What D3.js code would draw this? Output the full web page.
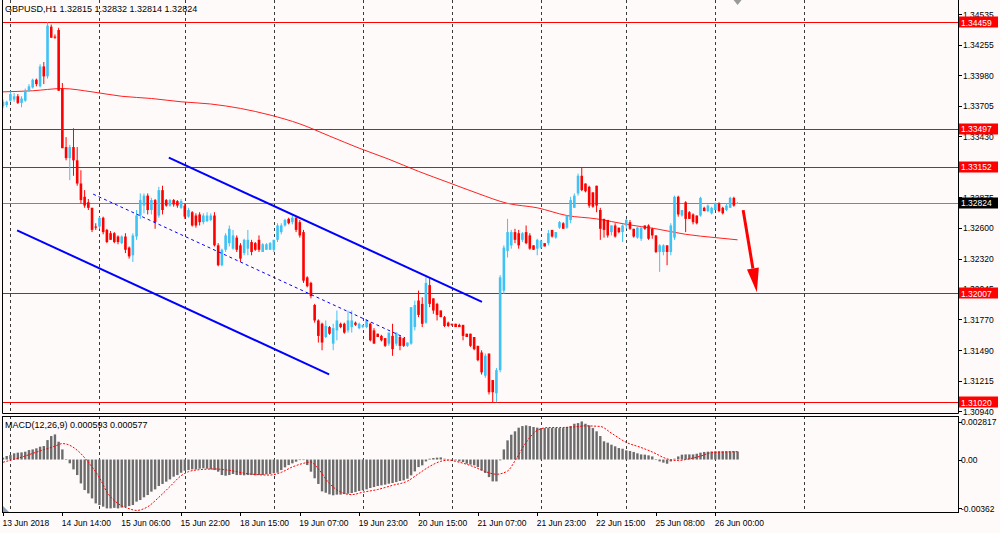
<!DOCTYPE html>
<html><head><meta charset="utf-8">
<script src="https://cdn.jsdelivr.net/npm/d3@7"></script>
<style>
body{margin:0;background:#fffafa;}
svg{display:block;}
text{font-family:"Liberation Sans",Arial,sans-serif;}
</style>
</head><body>
<svg id="c" width="1000" height="533"></svg>
<script>
// ---------------- data ----------------
const symbolTitle = "GBPUSD,H1  1.32815 1.32832 1.32814 1.32824";
const macdTitle = "MACD(12,26,9) 0.000593 0.000577";
const timeLabels = ["13 Jun 2018","14 Jun 14:00","15 Jun 06:00","15 Jun 22:00","18 Jun 15:00","19 Jun 07:00","19 Jun 23:00","20 Jun 15:00","21 Jun 07:00","21 Jun 23:00","22 Jun 15:00","25 Jun 08:00","26 Jun 00:00"];
const timeLabelBars = [0,16,32,48,64,80,96,112,128,144,160,176,192];
const gridBars = [2,26,49,73,97,121,145,168,192,216];
const priceTicks = [1.34535,1.34255,1.33980,1.33705,1.33430,1.32875,1.32600,1.32320,1.32045,1.31770,1.31490,1.31215,1.30940];
const levels = [1.34459,1.33497,1.33152,1.32007,1.31020];
const bidPrice = 1.32824;
const macdTicks = [0.002817,0,-0.00362];
const macdTickLabels = ["0.002817","0.00","-0.00362"];

// hourly candles [open, high, low, close]
const ohlc = [
[1.3370,1.3376,1.3368,1.3374],[1.3371,1.3375,1.3369,1.3374],[1.3375,1.3384,1.3374,1.3381],[1.3376,1.3382,1.3374,1.3379],
[1.3379,1.3381,1.3372,1.3373],[1.3373,1.3379,1.3369,1.3377],[1.3375,1.3386,1.3374,1.3384],[1.3384,1.3390,1.3383,1.3388],
[1.3387,1.3395,1.3386,1.3394],[1.3394,1.3395,1.3388,1.3390],[1.3388,1.3408,1.3387,1.3406],[1.3406,1.3410,1.3390,1.3397],
[1.3397,1.3446,1.3395,1.3443],[1.3442,1.3444,1.3432,1.3432],[1.3433,1.3435,1.3431,1.3432],[1.3439,1.3441,1.3384,1.3384],
[1.3386,1.3391,1.3332,1.3332],[1.3333,1.3342,1.3321,1.3323],[1.3323,1.3335,1.3303,1.3333],[1.3333,1.3350,1.3307,1.3321],
[1.3321,1.3333,1.3298,1.3300],[1.3300,1.3312,1.3282,1.3285],[1.3288,1.3294,1.3278,1.3280],[1.3283,1.3286,1.3276,1.3278],
[1.3278,1.3278,1.3256,1.3258],[1.3261,1.3264,1.3258,1.3260],[1.3261,1.3270,1.3259,1.3269],[1.3269,1.3270,1.3254,1.3256],
[1.3258,1.3259,1.3246,1.3247],[1.3255,1.3257,1.3249,1.3249],[1.3255,1.3256,1.3246,1.3247],[1.3252,1.3253,1.3245,1.3247],
[1.3246,1.3253,1.3245,1.3252],[1.3252,1.3255,1.3237,1.3240],[1.3242,1.3243,1.3232,1.3234],[1.3235,1.3255,1.3229,1.3253],
[1.3252,1.3276,1.3249,1.3271],[1.3271,1.3291,1.3268,1.3285],[1.3280,1.3291,1.3273,1.3289],[1.3289,1.3291,1.3272,1.3276],
[1.3276,1.3287,1.3272,1.3285],[1.3285,1.3286,1.3259,1.3265],[1.3271,1.3297,1.3269,1.3294],[1.3294,1.3298,1.3272,1.3276],
[1.3285,1.3286,1.3279,1.3280],[1.3280,1.3286,1.3279,1.3285],[1.3285,1.3286,1.3279,1.3281],[1.3284,1.3285,1.3278,1.3280],
[1.3278,1.3286,1.3277,1.3284],[1.3280,1.3282,1.3268,1.3270],[1.3270,1.3278,1.3269,1.3276],[1.3274,1.3275,1.3261,1.3262],
[1.3271,1.3273,1.3260,1.3262],[1.3272,1.3274,1.3262,1.3265],[1.3265,1.3273,1.3263,1.3271],[1.3266,1.3274,1.3265,1.3271],
[1.3267,1.3273,1.3266,1.3271],[1.3271,1.3274,1.3243,1.3244],[1.3244,1.3246,1.3225,1.3226],[1.3226,1.3241,1.3225,1.3240],
[1.3240,1.3255,1.3238,1.3253],[1.3246,1.3262,1.3243,1.3259],[1.3241,1.3258,1.3240,1.3253],[1.3251,1.3253,1.3238,1.3240],
[1.3244,1.3246,1.3229,1.3232],[1.3237,1.3250,1.3235,1.3249],[1.3241,1.3258,1.3235,1.3249],[1.3247,1.3249,1.3235,1.3238],
[1.3246,1.3247,1.3239,1.3240],[1.3249,1.3253,1.3238,1.3240],[1.3238,1.3246,1.3238,1.3245],[1.3240,1.3246,1.3240,1.3245],
[1.3240,1.3247,1.3240,1.3246],[1.3240,1.3249,1.3238,1.3249],[1.3249,1.3264,1.3247,1.3262],[1.3256,1.3264,1.3254,1.3262],
[1.3262,1.3268,1.3261,1.3267],[1.3268,1.3269,1.3263,1.3264],[1.3265,1.3271,1.3263,1.3269],[1.3269,1.3270,1.3256,1.3258],
[1.3265,1.3267,1.3251,1.3253],[1.3256,1.3258,1.3210,1.3212],[1.3215,1.3216,1.3206,1.3207],[1.3210,1.3211,1.3196,1.3198],
[1.3190,1.3191,1.3174,1.3176],[1.3176,1.3177,1.3156,1.3162],[1.3173,1.3174,1.3149,1.3156],[1.3161,1.3176,1.3160,1.3171],
[1.3170,1.3171,1.3163,1.3164],[1.3155,1.3173,1.3149,1.3169],[1.3167,1.3185,1.3158,1.3176],[1.3173,1.3174,1.3169,1.3170],
[1.3173,1.3174,1.3164,1.3165],[1.3167,1.3185,1.3165,1.3176],[1.3170,1.3185,1.3165,1.3176],[1.3174,1.3175,1.3171,1.3172],
[1.3169,1.3174,1.3168,1.3173],[1.3170,1.3172,1.3169,1.3172],[1.3170,1.3177,1.3169,1.3176],[1.3173,1.3174,1.3157,1.3158],
[1.3167,1.3169,1.3155,1.3155],[1.3164,1.3164,1.3161,1.3161],[1.3162,1.3163,1.3157,1.3158],[1.3160,1.3160,1.3152,1.3153],
[1.3155,1.3165,1.3153,1.3165],[1.3162,1.3173,1.3144,1.3150],[1.3155,1.3165,1.3153,1.3165],[1.3161,1.3162,1.3149,1.3153],
[1.3160,1.3160,1.3152,1.3153],[1.3153,1.3156,1.3152,1.3156],[1.3155,1.3188,1.3154,1.3188],[1.3170,1.3194,1.3167,1.3190],
[1.3194,1.3203,1.3179,1.3181],[1.3191,1.3197,1.3170,1.3173],[1.3174,1.3215,1.3173,1.3210],[1.3208,1.3214,1.3188,1.3191],
[1.3196,1.3196,1.3182,1.3185],[1.3191,1.3192,1.3176,1.3181],[1.3185,1.3185,1.3179,1.3179],[1.3179,1.3180,1.3170,1.3171],
[1.3174,1.3175,1.3170,1.3171],[1.3173,1.3173,1.3171,1.3172],[1.3173,1.3173,1.3170,1.3170],[1.3172,1.3173,1.3170,1.3170],
[1.3172,1.3172,1.3158,1.3162],[1.3164,1.3164,1.3161,1.3161],[1.3164,1.3164,1.3152,1.3153],[1.3161,1.3161,1.3149,1.3150],
[1.3153,1.3153,1.3139,1.3140],[1.3147,1.3149,1.3127,1.3129],[1.3126,1.3146,1.3124,1.3144],[1.3146,1.3146,1.3109,1.3111],
[1.3122,1.3122,1.3102,1.3111],[1.3110,1.3133,1.3102,1.3131],[1.3131,1.3217,1.3129,1.3215],[1.3203,1.3244,1.3200,1.3242],
[1.3239,1.3268,1.3233,1.3256],[1.3244,1.3258,1.3241,1.3256],[1.3256,1.3259,1.3246,1.3249],[1.3255,1.3258,1.3241,1.3244],
[1.3249,1.3256,1.3247,1.3255],[1.3256,1.3262,1.3245,1.3246],[1.3253,1.3255,1.3240,1.3241],[1.3244,1.3244,1.3240,1.3240],
[1.3241,1.3250,1.3235,1.3249],[1.3242,1.3249,1.3241,1.3248],[1.3246,1.3246,1.3243,1.3243],[1.3246,1.3258,1.3244,1.3255],
[1.3258,1.3258,1.3251,1.3252],[1.3251,1.3256,1.3250,1.3256],[1.3260,1.3266,1.3259,1.3265],[1.3264,1.3265,1.3259,1.3259],
[1.3260,1.3271,1.3259,1.3271],[1.3267,1.3288,1.3264,1.3285],[1.3278,1.3291,1.3278,1.3289],[1.3291,1.3309,1.3289,1.3307],
[1.3307,1.3315,1.3293,1.3294],[1.3300,1.3300,1.3292,1.3293],[1.3297,1.3298,1.3278,1.3280],[1.3292,1.3292,1.3278,1.3279],
[1.3298,1.3298,1.3274,1.3280],[1.3276,1.3278,1.3249,1.3259],[1.3268,1.3268,1.3251,1.3258],[1.3267,1.3267,1.3251,1.3253],
[1.3256,1.3262,1.3253,1.3262],[1.3262,1.3264,1.3251,1.3252],[1.3260,1.3260,1.3255,1.3256],[1.3256,1.3263,1.3247,1.3262],
[1.3262,1.3268,1.3259,1.3267],[1.3265,1.3267,1.3258,1.3259],[1.3259,1.3259,1.3251,1.3252],[1.3251,1.3261,1.3250,1.3260],
[1.3250,1.3261,1.3248,1.3260],[1.3262,1.3262,1.3258,1.3259],[1.3262,1.3263,1.3249,1.3250],[1.3259,1.3260,1.3250,1.3253],
[1.3253,1.3253,1.3237,1.3238],[1.3238,1.3245,1.3220,1.3244],[1.3238,1.3245,1.3235,1.3244],[1.3244,1.3244,1.3226,1.3238],
[1.3238,1.3264,1.3235,1.3262],[1.3251,1.3289,1.3249,1.3288],[1.3288,1.3289,1.3270,1.3272],[1.3271,1.3276,1.3270,1.3276],
[1.3283,1.3284,1.3256,1.3268],[1.3274,1.3275,1.3268,1.3268],[1.3272,1.3273,1.3263,1.3265],[1.3271,1.3271,1.3263,1.3264],
[1.3271,1.3288,1.3270,1.3287],[1.3278,1.3279,1.3275,1.3275],[1.3275,1.3281,1.3274,1.3280],[1.3273,1.3279,1.3272,1.3278],
[1.3276,1.3283,1.3276,1.3282],[1.3282,1.3283,1.3274,1.3275],[1.3278,1.3279,1.3272,1.3273],[1.3276,1.3282,1.3275,1.3280],
[1.3278,1.3288,1.3278,1.3287],[1.3287,1.3288,1.3279,1.3280],[1.32815,1.32832,1.32814,1.32824]
];

// moving average (bar index, price)
const maPoints = [[0,1.3383],[8,1.3384],[16,1.3386],[24,1.3383],[32,1.3379],[40,1.3377],[48,1.3374],[56,1.3372],[64,1.3368],
[72,1.3362],[80,1.3354],[88,1.3343],[96,1.3332],[104,1.3322],[112,1.3311],[120,1.3301],[128,1.3291],[136,1.3282],
[144,1.3278],[152,1.3271],[160,1.3268],[168,1.3263],[176,1.3259],[184,1.3254],[192,1.3251],[198,1.3249]];

// MACD main (histogram), units of 1e-5
const macdHist = [14,26,33,46,51,53,58,70,75,83,95,100,144,174,186,132,75,1,-28,-73,
-115,-177,-226,-251,-288,-325,-337,-349,-362,-362,-358,-362,-356,-352,-345,-337,-312,-300,-280,-263,
-238,-221,-196,-181,-164,-147,-127,-115,-98,-83,-78,-73,-73,-68,-65,-68,-73,-78,-90,-115,
-120,-115,-107,-115,-115,-117,-115,-115,-117,-115,-115,-110,-107,-102,-98,-78,-58,-41,-28,-16,
-4,-4,-41,-90,-139,-181,-236,-246,-258,-265,-260,-260,-256,-253,-248,-241,-233,-228,-221,-211,
-204,-196,-191,-186,-179,-174,-167,-159,-154,-142,-117,-88,-56,-43,-14,6,11,14,16,6,
1,-1,-6,-14,-19,-31,-38,-43,-56,-80,-100,-130,-162,-162,-6,75,142,184,209,236,
248,253,248,241,236,233,233,233,233,233,233,233,241,248,265,270,282,265,253,233,
209,174,135,125,110,98,85,80,68,63,56,46,38,36,31,23,-1,-14,-23,-31,
-14,6,23,36,38,38,38,43,51,56,58,60,61,61,61,61,61,61,59];

// MACD signal (bar index, value 1e-5)
const signalPoints = [[0,-20],[5,18],[10,64],[14,99],[16,118],[17,115],[20,69],[23,-20],[26,-135],[28,-240],[31,-326],
[34,-364],[36,-377],[39,-350],[42,-280],[45,-200],[48,-120],[50,-90],[53,-75],[57,-70],[61,-80],[66,-105],[72,-115],
[75,-95],[78,-55],[81,-28],[83,-18],[85,-70],[88,-178],[91,-240],[94,-260],[97,-242],[101,-222],[105,-191],[109,-160],
[112,-105],[115,-51],[118,-13],[120,-5],[123,-20],[127,-55],[130,-89],[133,-109],[136,-85],[138,-10],[141,127],[144,216],
[147,237],[150,237],[154,242],[157,249],[161,245],[164,195],[168,127],[172,89],[175,56],[179,5],[182,-8],[184,0],
[188,25],[191,51],[195,56],[198,58]];

// drawn objects (bar index, price)
const channelUpper = [[44.7,1.33234],[129.1,1.31929]];
const channelLower = [[3.8,1.32576],[87.9,1.31272]];
const channelMid = [[24.3,1.32904],[108.4,1.31602]];
const arrowLine = [[199.5,1.32759],[203.2,1.32016]];

// ---------------- layout ----------------
const L = 2, R = 958, mainTop = 0, mainBot = 413, macdTop = 416, macdBot = 512;
const bull = "#3ec3f5", bear = "#ff0000";

const svg = d3.select("#c");
const x = d3.scaleLinear().domain([0,198]).range([3, 3 + 198*3.71]);
const y = d3.scaleLinear().domain([1.30940,1.34535]).range([411,14]);
const ym = d3.scaleLinear().domain([-0.00362,0.002817]).range([508.4,421.5]);

svg.append("rect").attr("width",1000).attr("height",533).attr("fill","#fffafa");

const defs = svg.append("defs");
defs.append("clipPath").attr("id","cm").append("rect").attr("x",L).attr("y",mainTop).attr("width",R-L).attr("height",mainBot-mainTop);
defs.append("clipPath").attr("id","cd").append("rect").attr("x",L).attr("y",macdTop).attr("width",R-L).attr("height",macdBot-macdTop);

const gm = svg.append("g").attr("clip-path","url(#cm)");
const gd = svg.append("g").attr("clip-path","url(#cd)");

// grid
[[gm,mainTop,mainBot],[gd,macdTop,macdBot]].forEach(([g,t,b])=>{
  g.selectAll(null).data(gridBars).join("line")
    .attr("x1",d=>Math.round(x(d))+0.5).attr("x2",d=>Math.round(x(d))+0.5)
    .attr("y1",t).attr("y2",b)
    .attr("stroke","#3a3a3a").attr("stroke-width",1).attr("stroke-dasharray","3,3");
});

// MA
gm.append("path").datum(maPoints)
  .attr("d", d3.line().x(d=>x(d[0])).y(d=>y(d[1])).curve(d3.curveMonotoneX))
  .attr("fill","none").attr("stroke","#ff2020").attr("stroke-width",1);

// levels
gm.selectAll(null).data(levels).join("line")
  .attr("x1",L).attr("x2",R).attr("y1",d=>Math.round(y(d))+0.5).attr("y2",d=>Math.round(y(d))+0.5)
  .attr("stroke","#ff0000").attr("stroke-width",1);
gm.append("line").attr("x1",L).attr("x2",R)
  .attr("y1",Math.round(y(bidPrice))+0.5).attr("y2",Math.round(y(bidPrice))+0.5)
  .attr("stroke","#778899").attr("stroke-width",1);

// candles
const cg = gm.append("g");
cg.selectAll("line").data(ohlc).join("line")
  .attr("x1",(d,i)=>x(i)).attr("x2",(d,i)=>x(i))
  .attr("y1",d=>y(d[1])).attr("y2",d=>y(d[2]))
  .attr("stroke",d=>d[3]>=d[0]?bull:bear).attr("stroke-width",1);
cg.selectAll("rect").data(ohlc).join("rect")
  .attr("x",(d,i)=>x(i)-1.3).attr("width",2.6)
  .attr("y",d=>y(Math.max(d[0],d[3])))
  .attr("height",d=>Math.max(1,Math.abs(y(d[0])-y(d[3]))))
  .attr("fill",d=>d[3]>=d[0]?bull:bear);

// channel
const seg = d3.line().x(d=>x(d[0])).y(d=>y(d[1]));
gm.append("path").datum(channelUpper).attr("d",seg).attr("stroke","#0000ff").attr("stroke-width",2).attr("fill","none");
gm.append("path").datum(channelLower).attr("d",seg).attr("stroke","#0000ff").attr("stroke-width",2).attr("fill","none");
gm.append("path").datum(channelMid).attr("d",seg).attr("stroke","#0000ff").attr("stroke-width",1).attr("stroke-dasharray","3,3").attr("fill","none");

// arrow
{
  const [a,b] = arrowLine;
  const x1=x(a[0]), y1=y(a[1]), x2=x(b[0]), y2=y(b[1]);
  const dx=x2-x1, dy=y2-y1, len=Math.hypot(dx,dy), ux=dx/len, uy=dy/len;
  const hl=24, hw=6;
  const bx=x2-ux*hl, by=y2-uy*hl;
  gm.append("line").attr("x1",x1).attr("y1",y1).attr("x2",bx).attr("y2",by)
    .attr("stroke","#ff0000").attr("stroke-width",3);
  gm.append("polygon").attr("points",[[x2,y2],[bx-uy*hw,by+ux*hw],[bx+uy*hw,by-ux*hw]].map(p=>p.join(",")).join(" "))
    .attr("fill","#ff0000");
}

// MACD histogram and signal
gd.selectAll("rect").data(macdHist).join("rect")
  .attr("x",(d,i)=>x(i)-1.2).attr("width",2.4)
  .attr("y",d=>Math.min(ym(0),ym(d*1e-5)))
  .attr("height",d=>Math.max(0.5,Math.abs(ym(d*1e-5)-ym(0))))
  .attr("fill","#6c6c6c");
gd.append("path").datum(signalPoints)
  .attr("d", d3.line().x(d=>x(d[0])).y(d=>ym(d[1]*1e-5)).curve(d3.curveMonotoneX))
  .attr("fill","none").attr("stroke","#ff0000").attr("stroke-width",1).attr("stroke-dasharray","2,1.5");

// frames (main panel has no visible top edge)
svg.append("path").attr("d",`M${L+0.5},${mainTop}V${mainBot+0.5}H${R+0.5}V${mainTop}`)
  .attr("fill","none").attr("stroke","#000");
svg.append("rect").attr("x",L+0.5).attr("y",macdTop+0.5).attr("width",R-L).attr("height",macdBot-macdTop)
  .attr("fill","none").attr("stroke","#000");

// price axis
const ax = svg.append("g");
ax.selectAll("line").data(priceTicks).join("line")
  .attr("x1",R).attr("x2",R+4).attr("y1",d=>Math.round(y(d))+0.5).attr("y2",d=>Math.round(y(d))+0.5).attr("stroke","#000");
ax.selectAll("text").data(priceTicks).join("text")
  .attr("x",R+5).attr("y",d=>y(d)+3.5).attr("font-size","8.5px").attr("fill","#000").text(d=>d.toFixed(5));

// level labels (drawn over the scale, as on the terminal)
const lg = svg.append("g");
const lab = lg.selectAll("g").data(levels.map(v=>({v,bg:"#ff0000"})).concat([{v:bidPrice,bg:"#000"}])).join("g");
lab.append("rect").attr("x",R+1).attr("y",d=>Math.round(y(d.v))-5.5).attr("width",39).attr("height",11).attr("fill",d=>d.bg);
lab.append("text").attr("x",R+3).attr("y",d=>y(d.v)+3.5).attr("font-size","8.5px").attr("fill","#fff").text(d=>d.v.toFixed(5));

// macd axis
svg.selectAll(null).data(macdTicks).join("line")
  .attr("x1",R).attr("x2",R+4).attr("y1",d=>Math.round(ym(d))+0.5).attr("y2",d=>Math.round(ym(d))+0.5).attr("stroke","#000");
svg.selectAll(null).data(macdTicks).join("text")
  .attr("x",R+3).attr("y",d=>ym(d)+3.5).attr("font-size","8.5px").attr("fill","#000").text((d,i)=>macdTickLabels[i]);

// time axis
svg.selectAll(null).data(timeLabelBars).join("line")
  .attr("x1",d=>Math.round(x(d))+0.5).attr("x2",d=>Math.round(x(d))+0.5).attr("y1",macdBot).attr("y2",macdBot+4).attr("stroke","#000");
svg.selectAll(null).data(timeLabelBars).join("text")
  .attr("x",d=>x(d)-0.5).attr("y",526).attr("font-size","8.5px").attr("fill","#000").text((d,i)=>timeLabels[i]);

// titles
svg.append("text").attr("x",5).attr("y",12).attr("font-size","9px").attr("fill","#000").text(symbolTitle);
svg.append("text").attr("x",5).attr("y",428).attr("font-size","9px").attr("fill","#000").text(macdTitle);

// chart-shift marker and panel marker
svg.append("polygon").attr("points",[[x(198)-4,0],[x(198)+4,0],[x(198),5]].map(p=>p.join(",")).join(" ")).attr("fill","#9a9a9a");
svg.append("polygon").attr("points",[[L+1,macdBot-6],[L+1,macdBot],[L+7,macdBot]].map(p=>p.join(",")).join(" ")).attr("fill","#8fa0b8");
</script>
</body></html>
